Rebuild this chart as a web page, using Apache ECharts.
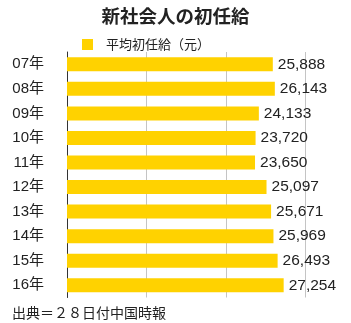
<!DOCTYPE html>
<html>
<head>
<meta charset="utf-8">
<script src="https://cdn.jsdelivr.net/npm/echarts@6/dist/echarts.min.js"></script>
<style>
  html, body { margin: 0; padding: 0; background: #fff; }
  #chart { width: 351px; height: 323px; }
</style>
</head>
<body>
<div id="chart"></div>
<script>
// Average starting salary of new graduates (Taiwan), in NT dollars
const years = ['07年', '08年', '09年', '10年', '11年', '12年', '13年', '14年', '15年', '16年'];
const salaries = [25888, 26143, 24133, 23720, 23650, 25097, 25671, 25969, 26493, 27254];
const seriesName = '平均初任給（元）';
const titleText = '新社会人の初任給';
const sourceText = '出典＝２８日付中国時報';

const FONT = '"Liberation Sans", "Noto Sans CJK JP", sans-serif';
const CJK = '"Noto Sans CJK JP", sans-serif';

const chart = echarts.init(document.getElementById('chart'));
chart.setOption({
  animation: false,
  backgroundColor: '#ffffff',
  textStyle: { fontFamily: FONT },
  title: [
    {
      text: titleText,
      left: 'center',
      top: 2,
      textStyle: { fontSize: 18.5, fontWeight: 'bold', color: '#222', fontFamily: CJK }
    },
    {
      text: sourceText,
      left: 7,
      top: 301,
      textStyle: { fontSize: 14, fontWeight: 'normal', color: '#222', fontFamily: CJK }
    }
  ],
  legend: {
    data: [seriesName],
    left: 77,
    top: 33,
    itemWidth: 11,
    itemHeight: 11,
    icon: 'rect',
    textStyle: { fontSize: 13, color: '#222', fontFamily: CJK, padding: [0, 0, 0, 8] }
  },
  grid: {
    left: 67,
    top: 52,
    width: 238.5,
    height: 245.5,
    containLabel: false
  },
  xAxis: {
    type: 'value',
    min: 0,
    max: 30000,
    interval: 10000,
    axisLine: { show: false },
    axisTick: { show: false },
    axisLabel: { show: false },
    splitLine: { show: true, lineStyle: { color: '#c4c4c4', width: 1 } }
  },
  yAxis: {
    type: 'category',
    data: years,
    inverse: true,
    axisLine: { show: true, lineStyle: { color: '#333', width: 1 } },
    axisTick: { show: false },
    axisLabel: { fontSize: 15, color: '#222', margin: 23, fontFamily: FONT }
  },
  series: [
    {
      name: seriesName,
      type: 'bar',
      data: salaries,
      barWidth: 14,
      itemStyle: { color: '#FFD200' },
      label: {
        show: true,
        position: 'right',
        distance: 5,
        fontSize: 15.5,
        color: '#222',
        fontFamily: FONT,
        formatter: p => p.value.toLocaleString('en-US')
      }
    }
  ]
});
</script>
</body>
</html>
